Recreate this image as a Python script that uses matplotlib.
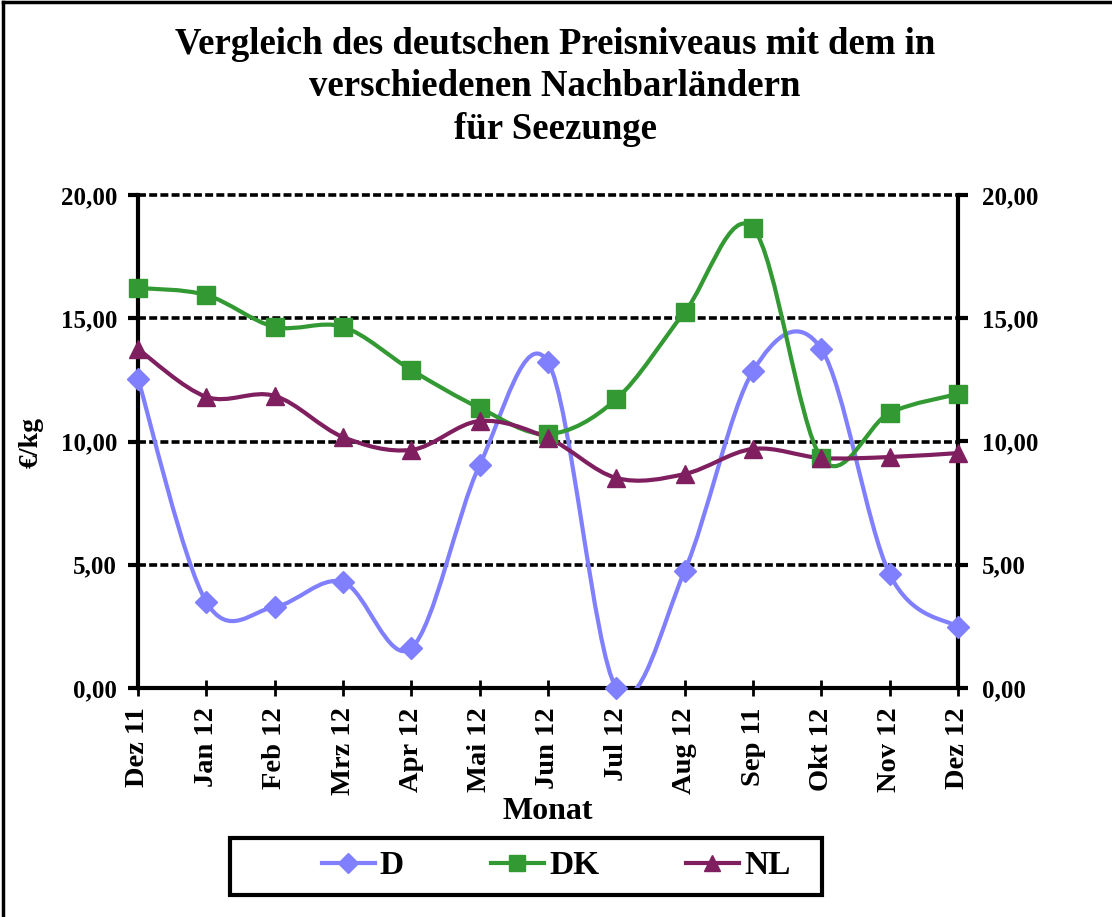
import matplotlib
matplotlib.use("Agg")
import matplotlib.pyplot as plt
import numpy as np
from matplotlib.path import Path
from matplotlib.patches import PathPatch, Rectangle
from matplotlib.lines import Line2D

months = ["Dez 11", "Jan 12", "Feb 12", "Mrz 12", "Apr 12", "Mai 12", "Jun 12",
          "Jul 12", "Aug 12", "Sep 11", "Okt 12", "Nov 12", "Dez 12"]
D = [12.54, 3.49, 3.29, 4.30, 1.62, 9.05, 13.22, 0.0, 4.75, 12.86, 13.75, 4.62, 2.47]
DK = [16.23, 15.94, 14.65, 14.65, 12.90, 11.36, 10.30, 11.72, 15.25, 18.66, 9.33, 11.16, 11.93]
NL = [13.75, 11.81, 11.85, 10.18, 9.66, 10.83, 10.14, 8.52, 8.68, 9.70, 9.33, 9.37, 9.53]
yticks = [0, 5, 10, 15, 20]
ytick_labels = ["0,00", "5,00", "10,00", "15,00", "20,00"]

plt.rcParams['font.family'] = ['Liberation Serif', 'DejaVu Serif']
plt.rcParams['font.weight'] = 'bold'

fig = plt.figure(figsize=(11.12, 9.17), dpi=100)
W, H = 1112, 917
ax = fig.add_axes([138 / W, 1 - 688 / H, (958 - 138) / W, (688 - 195) / H])

def smooth_path(xs, ys):
    pts = np.column_stack([xs, ys]).astype(float)
    n = len(pts)
    verts = [pts[0]]
    codes = [Path.MOVETO]
    for i in range(n - 1):
        p0 = pts[i - 1] if i > 0 else pts[i]
        p1 = pts[i]
        p2 = pts[i + 1]
        p3 = pts[i + 2] if i + 2 < n else pts[i + 1]
        c1 = p1 + (p2 - p0) / 6.0
        c2 = p2 - (p3 - p1) / 6.0
        verts += [c1, c2, p2]
        codes += [Path.CURVE4] * 3
    return Path(verts, codes)

series = [("D", D, "#8080FF", "D", 11),
          ("DK", DK, "#339933", "s", 13),
          ("NL", NL, "#7F1F5F", "^", 12.5)]
x = np.arange(len(months))
for name, vals, col, mk, ms in series:
    patch = PathPatch(smooth_path(x, vals), facecolor="none", edgecolor=col, lw=3, zorder=3)
    ax.add_patch(patch)
    ax.plot(x, vals, linestyle="none", marker=mk, color=col, markersize=ms, zorder=4,
            clip_on=False)

ax.set_xlim(0, 12)
ax.set_ylim(0, 20)
ax.set_yticks(yticks)
ax.set_yticklabels(ytick_labels, fontsize=18, fontweight="bold")
ax.set_xticks(x)
ax.set_xticklabels(months, rotation=90, fontsize=20.5, fontweight="bold")
for yv in yticks[1:]:
    ax.axhline(yv, color="black", lw=2.6, ls=(0, (2.2, 0.9)), zorder=1, clip_on=False)

for s in ["left", "right", "bottom"]:
    ax.spines[s].set_linewidth(3)
ax.spines["top"].set_visible(False)
ax.tick_params(axis="y", direction="out", length=7, width=3, pad=8, left=True, right=True)
ax.tick_params(axis="x", direction="inout", length=12, width=2, pad=8)

ax2 = ax.twinx()
ax2.set_ylim(0, 20)
ax2.set_yticks(yticks)
ax2.set_yticklabels(ytick_labels, fontsize=18, fontweight="bold")
ax2.tick_params(axis="y", direction="out", length=7, width=3, pad=10)
for s in ax2.spines.values():
    s.set_visible(False)

ax.set_xlabel("Monat", fontsize=23, fontweight="bold", labelpad=1)
fig.text(31 / W, 1 - 443 / H, "€/kg", rotation=90, ha="center", va="center",
         fontsize=20, fontweight="bold")

fig.text(555 / W, 1 - 87 / H,
         "Vergleich des deutschen Preisniveaus mit dem in\nverschiedenen Nachbarländern\nfür Seezunge",
         ha="center", va="center", fontsize=26.5, fontweight="bold", linespacing=1.28)

handles = [Line2D([], [], color=c, lw=3, marker=m, markersize=ms - 1) for _, _, c, m, ms in series]
leg = fig.legend(handles, [s[0] for s in series], loc="center",
                 bbox_to_anchor=(556 / W, 1 - 866 / H), ncol=3, frameon=False,
                 prop={"size": 24, "weight": "bold"},
                 handlelength=1.6, columnspacing=2.6, handletextpad=0.15)
fig.add_artist(Rectangle((230 / W, 1 - 895 / H), (822 - 230) / W, (895 - 838) / H,
                         transform=fig.transFigure, facecolor="none", edgecolor="black",
                         lw=3, zorder=0))

fig.add_artist(Line2D([3 / W, 3 / W], [0, 1 - 2 / H], color="black", lw=2.5,
                      transform=fig.transFigure))
fig.add_artist(Line2D([3 / W, 1], [1 - 2 / H, 1 - 2 / H], color="black", lw=2.5,
                      transform=fig.transFigure))

fig.savefig("out.png", dpi=100)
